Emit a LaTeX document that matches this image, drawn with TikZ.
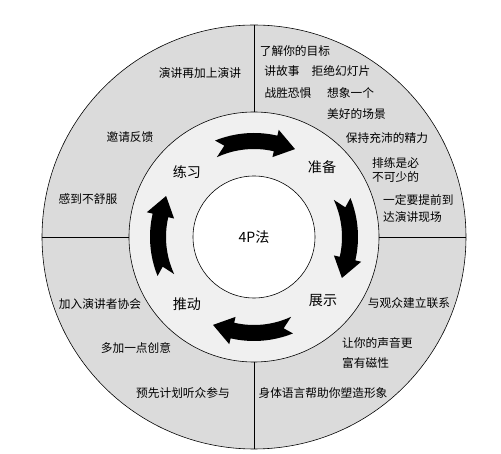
\documentclass[tikz,border=0pt]{standalone}
\usepackage{fontspec}
\newfontfamily\cjk{Noto Sans CJK SC}
\usetikzlibrary{positioning}
\definecolor{outerring}{gray}{0.86}
\definecolor{innerring}{gray}{0.94}
\tikzset{
    ring/.style={draw, line width=0.5pt},
    note/.style={font=\cjk\fontsize{10}{12}\selectfont, inner sep=0pt},
    phase/.style={font=\cjk\fontsize{12}{14}\selectfont, inner sep=0pt},
}
\begin{document}
\begin{tikzpicture}[scale=0.03]
    \useasboundingbox (-254,-217) rectangle (247,237);
    \draw[ring, fill=outerring] (0,0) circle[radius=212];
    \draw[ring, fill=innerring] (0,0) circle[radius=125];
    \draw[ring, fill=white] (0,0) circle[radius=61];
    \foreach \d in {0,90,180,270}{
        \coordinate (in\d) at (\d:125);
        \coordinate (out\d) at (\d:212);
        \draw[line width=0.5pt] (in\d) -- (out\d);
    }

    % arrows, clockwise
    \foreach \a [evaluate=\a as \t using \a+22,
                 evaluate=\a as \s using \a+25,
                 evaluate=\a as \n using \a+18,
                 evaluate=\a as \b using \a-13,
                 evaluate=\a as \h using \a-25] in {90,0,-90,-180}
        \fill (\t:104) arc[start angle=\t, end angle=\b, radius=104]
            -- (\b:110) -- (\h:97) -- (\b:82) -- (\b:88)
            arc[start angle=\b, end angle=\s, radius=88] -- (\n:96) -- cycle;

    \node[phase] (core) at (0,0) {4P法};
    \node[phase] (practice) at (-67,65) {练习};
    \node[phase] (prepare) at (68,70) {准备};
    \node[phase] (present) at (69,-64) {展示};
    \node[phase] (promote) at (-67,-67) {推动};

    % prepare
    \node[note] (goal) at (41,186) {了解你的目标};
    \node[note] (story) at (28,166) {讲故事};
    \node[note] (slides) at (87,166) {拒绝幻灯片};
    \node[note] (fear) at (34,144) {战胜恐惧};
    \node[note, anchor=west] (imagine) at (73,144) {想象一个};
    \node[note, below=8pt of imagine.south west, anchor=north west] (scene) {美好的场景};
    \node[note] (energy) at (133,99) {保持充沛的精力};
    \node[note, anchor=west] (rehearse) at (118,74) {排练是必};
    \node[note, below=2.5pt of rehearse.south west, anchor=north west] (needed) {不可少的};
    \node[note, anchor=west] (early) at (129,37) {一定要提前到};
    \node[note, below=5pt of early.south west, anchor=north west] (venue) {达演讲现场};

    % practice
    \node[note] (again) at (-54,164) {演讲再加上演讲};
    \node[note] (feedback) at (-124,100) {邀请反馈};
    \node[note] (uneasy) at (-166,38) {感到不舒服};

    % promote
    \node[note] (club) at (-154,-67) {加入演讲者协会};
    \node[note] (idea) at (-118,-111) {多加一点创意};
    \node[note] (plan) at (-71,-156) {预先计划听众参与};

    % present
    \node[note] (link) at (155,-66) {与观众建立联系};
    \node[note, anchor=west] (voice) at (88,-106) {让你的声音更};
    \node[note, below=7pt of voice.south west, anchor=north west] (charm) {富有磁性};
    \node[note] (body) at (69,-156) {身体语言帮助你塑造形象};
\end{tikzpicture}
\end{document}
